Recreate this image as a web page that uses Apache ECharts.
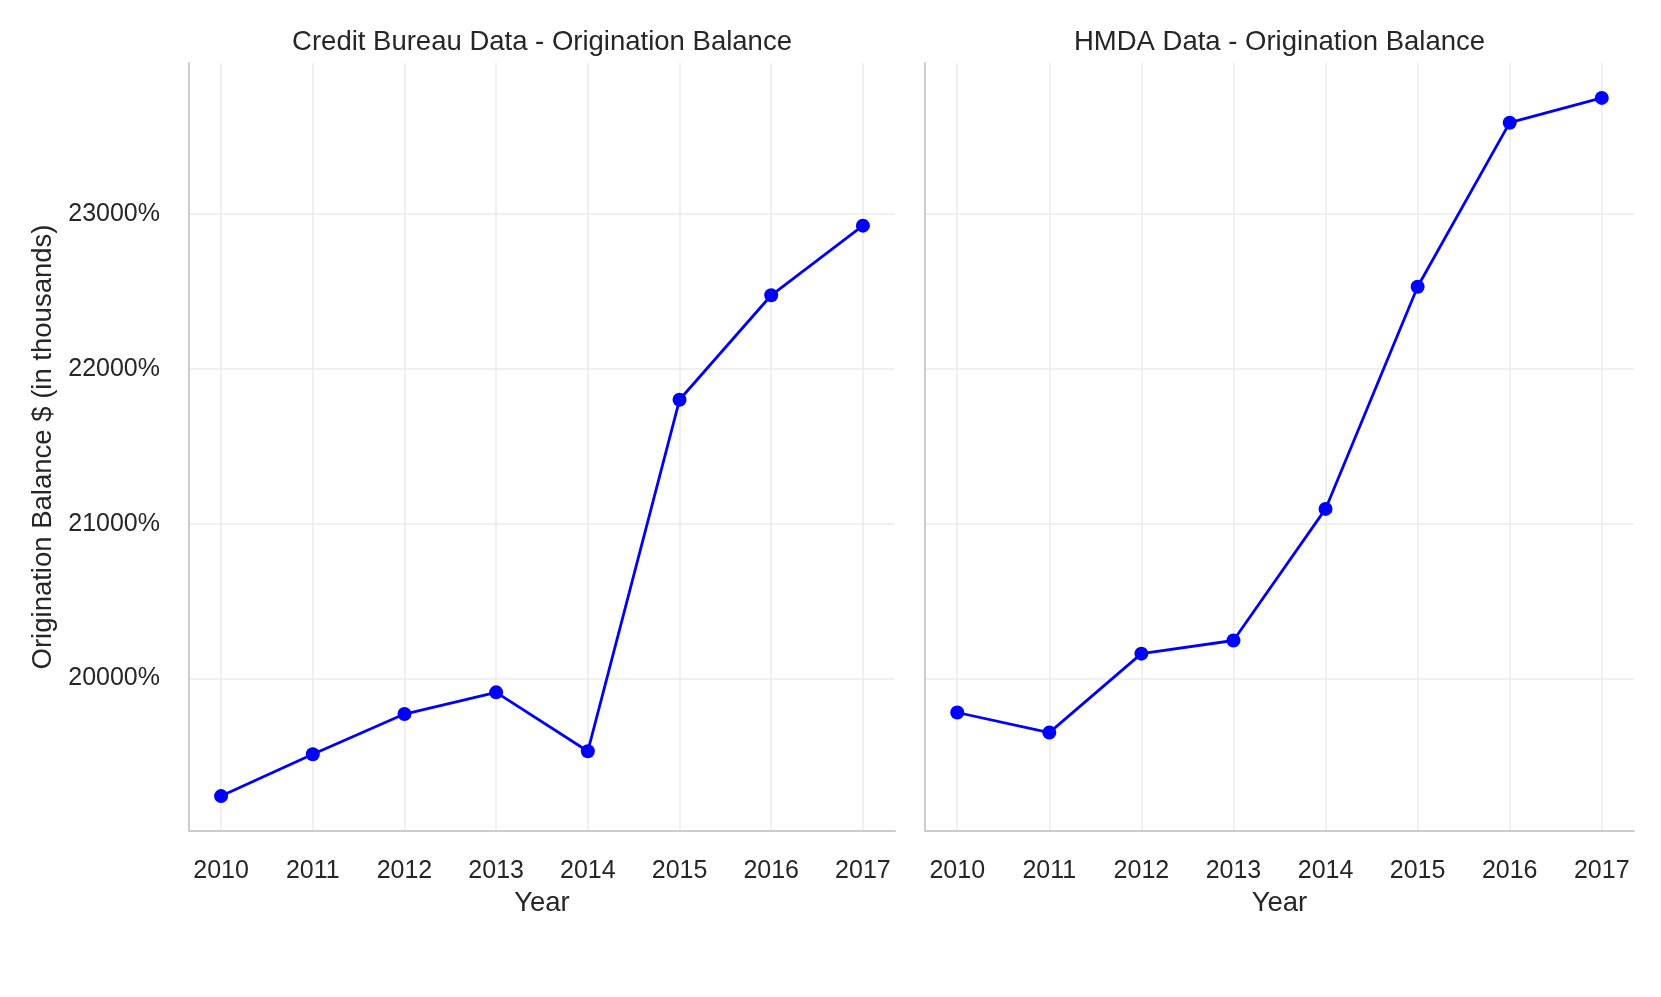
<!DOCTYPE html>
<html>
<head>
<meta charset="utf-8">
<script src="https://cdn.jsdelivr.net/npm/echarts@6/dist/echarts.min.js"></script>
<style>html,body{margin:0;padding:0;background:#fff}#c{width:1661px;height:997px}</style>
</head>
<body>
<div id="c"></div>
<script>
const years = [2010, 2011, 2012, 2013, 2014, 2015, 2016, 2017];
const creditBureau = [19240, 19510, 19770, 19910, 19530, 21800, 22475, 22925];
const hmda = [19780, 19650, 20160, 20245, 21095, 22530, 23590, 23750];
const panelTitles = ['Credit Bureau Data - Origination Balance', 'HMDA Data - Origination Balance'];
const yAxisName = 'Origination Balance $ (in thousands)';
const xAxisName = 'Year';

const allVals = creditBureau.concat(hmda);
const vMin = Math.min(...allVals), vMax = Math.max(...allVals);
const yPad = (vMax - vMin) * 0.05;
const xPad = (years[years.length - 1] - years[0]) * 0.05;

const FONT = '"Liberation Sans", Arial, sans-serif';
const TXT = '#262626';
const grids = [
  {left: 189, width: 706, top: 63, height: 768},
  {left: 925, width: 709, top: 63, height: 768}
];

function xAxis(i) {
  return {
    gridIndex: i, type: 'value',
    min: years[0] - xPad, max: years[years.length - 1] + xPad,
    minInterval: 1, maxInterval: 1,
    name: xAxisName, nameLocation: 'middle', nameGap: 58,
    nameTextStyle: {fontFamily: FONT, fontSize: 27.5, color: TXT},
    axisLine: {show: true, lineStyle: {color: '#cccccc', width: 2}},
    axisTick: {show: false},
    axisLabel: {fontFamily: FONT, fontSize: 25, color: TXT, margin: 28,
      showMinLabel: false, showMaxLabel: false, formatter: v => String(v)},
    splitLine: {show: true, showMinLine: false, showMaxLine: false, lineStyle: {color: '#ebebeb', width: 1.5}}
  };
}
function yAxis(i) {
  return {
    gridIndex: i, type: 'value',
    min: vMin - yPad, max: vMax + yPad,
    minInterval: 1000, maxInterval: 1000,
    name: i === 0 ? yAxisName : '', nameLocation: 'middle', nameGap: 132,
    nameTextStyle: {fontFamily: FONT, fontSize: 27.5, color: TXT},
    axisLine: {show: true, lineStyle: {color: '#cccccc', width: 2}},
    axisTick: {show: false},
    axisLabel: {show: i === 0, fontFamily: FONT, fontSize: 25, color: TXT, margin: 29,
      padding: [6, 0, 0, 0],
      showMinLabel: false, showMaxLabel: false, formatter: v => v + '%'},
    splitLine: {show: true, showMinLine: false, showMaxLine: false, lineStyle: {color: '#ebebeb', width: 1.5}}
  };
}
function series(i, vals) {
  return {
    type: 'line', xAxisIndex: i, yAxisIndex: i,
    data: years.map((y, k) => [y, vals[k]]),
    symbol: 'circle', symbolSize: 14,
    lineStyle: {color: '#0000ff', width: 2.8},
    itemStyle: {color: '#0000ff'},
    animation: false
  };
}

const chart = echarts.init(document.getElementById('c'));
chart.setOption({
  backgroundColor: '#ffffff',
  animation: false,
  title: panelTitles.map((t, i) => ({
    text: t, left: grids[i].left + grids[i].width / 2 - 5, top: 23, textAlign: 'center',
    textStyle: {fontFamily: FONT, fontSize: 27.5, fontWeight: 'normal', color: TXT}
  })),
  grid: grids,
  xAxis: [xAxis(0), xAxis(1)],
  yAxis: [yAxis(0), yAxis(1)],
  series: [series(0, creditBureau), series(1, hmda)]
});
</script>
</body>
</html>
